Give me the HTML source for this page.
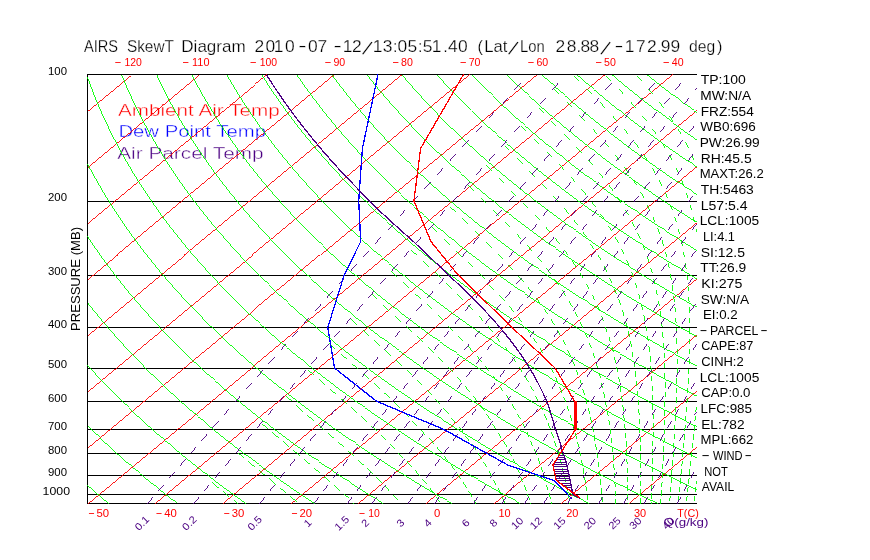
<!DOCTYPE html>
<html><head><meta charset="utf-8"><title>AIRS SkewT Diagram</title>
<style>
html,body{margin:0;padding:0;background:#fff}
body{width:870px;height:560px;overflow:hidden}
svg{display:block}
text{font-family:"Liberation Sans",sans-serif}
</style></head><body>
<svg width="870" height="560" viewBox="0 0 870 560">
<rect width="870" height="560" fill="#fff"/>
<g>
<text x="117.9" y="115.8" font-size="17.3" fill="#ff0000" text-anchor="start" textLength="161.9" lengthAdjust="spacingAndGlyphs" stroke="#fff" stroke-width="0.4">Ambient Air Temp</text>
<text x="118.4" y="137.2" font-size="17.3" fill="#0000ff" text-anchor="start" textLength="147.6" lengthAdjust="spacingAndGlyphs" stroke="#fff" stroke-width="0.4">Dew Point Temp</text>
<text x="117.2" y="159.4" font-size="17.3" fill="#4b0082" text-anchor="start" textLength="146.5" lengthAdjust="spacingAndGlyphs" stroke="#fff" stroke-width="0.4">Air Parcel Temp</text>
</g>
<g shape-rendering="crispEdges" stroke-width="0.9" stroke-linecap="butt">
<path d="M87 201.5H697M87 275.5H697M87 327.5H697M87 368.5H697M87 401.5H697M87 429.5H697M87 453.5H697M87 475.5H697M87 494.5H697M87 74.5H697M87 503.5H697M87.5 74V504" stroke="#000" stroke-width="1" fill="none"/>
<path d="M87.5 110.9L131.2 74.7M87.5 167L198.9 74.7M87.5 223.1L266.5 74.7M87.5 279.2L334.2 74.7M87.5 335.3L401.9 74.7M87.5 391.4L469.5 74.7M87.5 447.5L537.2 74.7M87.5 503.6L604.9 74.7M155.2 503.6L672.6 74.7M222.8 503.6L696.5 110.9M290.5 503.6L696.5 167M358.2 503.6L696.5 223.1M425.9 503.6L696.5 279.2M493.5 503.6L696.5 335.3M561.2 503.6L696.5 391.4M628.9 503.6L696.5 447.5" stroke="#ff0000" fill="none"/>
<path d="M108.7 503.6L105.2 500.6L101.6 497.6L98.1 494.6L94.7 491.6L91.2 488.6L87.8 485.6L87.5 485.3M177.3 503.6L173.5 500.6L169.6 497.6L165.8 494.6L162 491.6L158.2 488.6L154.5 485.6L150.9 482.6L147.2 479.6L143.6 476.6L140 473.6L136.5 470.6L133 467.6L129.5 464.6L126 461.6L122.6 458.6L119.3 455.6L115.9 452.6L112.6 449.6L109.3 446.6L106.1 443.6L102.9 440.6L99.7 437.6L96.5 434.6L93.4 431.6L90.3 428.6L87.5 425.8M246 503.6L241.8 500.6L237.6 497.6L233.4 494.6L229.3 491.6L225.3 488.6L221.2 485.6L217.2 482.6L213.3 479.6L209.4 476.6L205.5 473.6L201.6 470.6L197.8 467.6L194 464.6L190.3 461.6L186.6 458.6L182.9 455.6L179.3 452.6L175.6 449.6L172.1 446.6L168.5 443.6L165 440.6L161.5 437.6L158.1 434.6L154.7 431.6L151.3 428.6L148 425.6L144.7 422.6L141.4 419.6L138.1 416.6L134.9 413.6L131.8 410.6L128.6 407.6L125.5 404.6L122.4 401.6L119.3 398.6L116.3 395.6L113.3 392.6L110.4 389.6L107.4 386.6L104.5 383.6L101.7 380.6L98.8 377.6L96 374.6L93.3 371.6L90.5 368.6L87.8 365.6L87.5 365.2M314.6 503.6L310 500.6L305.6 497.6L301.1 494.6L296.7 491.6L292.3 488.6L288 485.6L283.6 482.6L279.4 479.6L275.1 476.6L271 473.6L266.8 470.6L262.7 467.6L258.6 464.6L254.5 461.6L250.5 458.6L246.5 455.6L242.6 452.6L238.7 449.6L234.8 446.6L231 443.6L227.2 440.6L223.4 437.6L219.7 434.6L216 431.6L212.3 428.6L208.7 425.6L205.1 422.6L201.5 419.6L198 416.6L194.5 413.6L191.1 410.6L187.6 407.6L184.2 404.6L180.9 401.6L177.6 398.6L174.3 395.6L171 392.6L167.8 389.6L164.6 386.6L161.4 383.6L158.3 380.6L155.2 377.6L152.1 374.6L149 371.6L146 368.6L143.1 365.6L140.1 362.6L137.2 359.6L134.3 356.6L131.5 353.6L128.6 350.6L125.8 347.6L123.1 344.6L120.3 341.6L117.6 338.6L115 335.6L112.3 332.6L109.7 329.6L107.1 326.6L104.6 323.6L102 320.6L99.5 317.6L97.1 314.6L94.6 311.6L92.2 308.6L89.8 305.6L87.5 302.6M383.2 503.6L378.3 500.6L373.5 497.6L368.8 494.6L364 491.6L359.3 488.6L354.7 485.6L350 482.6L345.5 479.6L340.9 476.6L336.4 473.6L332 470.6L327.5 467.6L323.1 464.6L318.8 461.6L314.5 458.6L310.2 455.6L305.9 452.6L301.7 449.6L297.6 446.6L293.4 443.6L289.4 440.6L285.3 437.6L281.3 434.6L277.3 431.6L273.3 428.6L269.4 425.6L265.5 422.6L261.7 419.6L257.9 416.6L254.1 413.6L250.4 410.6L246.7 407.6L243 404.6L239.4 401.6L235.8 398.6L232.2 395.6L228.7 392.6L225.2 389.6L221.7 386.6L218.2 383.6L214.8 380.6L211.5 377.6L208.1 374.6L204.8 371.6L201.6 368.6L198.3 365.6L195.1 362.6L191.9 359.6L188.8 356.6L185.7 353.6L182.6 350.6L179.6 347.6L176.6 344.6L173.6 341.6L170.6 338.6L167.7 335.6L164.8 332.6L161.9 329.6L159.1 326.6L156.3 323.6L153.5 320.6L150.8 317.6L148.1 314.6L145.4 311.6L142.7 308.6L140.1 305.6L137.5 302.6L135 299.6L132.4 296.6L129.9 293.6L127.4 290.6L125 287.6L122.6 284.6L120.2 281.6L117.8 278.6L115.5 275.6L113.2 272.6L110.9 269.6L108.6 266.6L106.4 263.6L104.2 260.6L102 257.6L99.9 254.6L97.8 251.6L95.7 248.6L93.6 245.6L91.6 242.6L89.6 239.6L87.6 236.6L87.5 236.4M451.8 503.6L446.6 500.6L441.5 497.6L436.4 494.6L431.4 491.6L426.3 488.6L421.4 485.6L416.4 482.6L411.6 479.6L406.7 476.6L401.9 473.6L397.1 470.6L392.4 467.6L387.7 464.6L383 461.6L378.4 458.6L373.8 455.6L369.3 452.6L364.8 449.6L360.3 446.6L355.9 443.6L351.5 440.6L347.2 437.6L342.9 434.6L338.6 431.6L334.3 428.6L330.1 425.6L326 422.6L321.8 419.6L317.8 416.6L313.7 413.6L309.7 410.6L305.7 407.6L301.8 404.6L297.8 401.6L294 398.6L290.1 395.6L286.3 392.6L282.5 389.6L278.8 386.6L275.1 383.6L271.4 380.6L267.8 377.6L264.2 374.6L260.6 371.6L257.1 368.6L253.6 365.6L250.1 362.6L246.7 359.6L243.3 356.6L239.9 353.6L236.6 350.6L233.3 347.6L230 344.6L226.8 341.6L223.6 338.6L220.4 335.6L217.3 332.6L214.2 329.6L211.1 326.6L208 323.6L205 320.6L202.1 317.6L199.1 314.6L196.2 311.6L193.3 308.6L190.4 305.6L187.6 302.6L184.8 299.6L182 296.6L179.3 293.6L176.6 290.6L173.9 287.6L171.2 284.6L168.6 281.6L166 278.6L163.5 275.6L160.9 272.6L158.4 269.6L156 266.6L153.5 263.6L151.1 260.6L148.7 257.6L146.3 254.6L144 251.6L141.7 248.6L139.4 245.6L137.2 242.6L135 239.6L132.8 236.6L130.6 233.6L128.4 230.6L126.3 227.6L124.2 224.6L122.2 221.6L120.1 218.6L118.1 215.6L116.2 212.6L114.2 209.6L112.3 206.6L110.4 203.6L108.5 200.6L106.6 197.6L104.8 194.6L103 191.6L101.2 188.6L99.5 185.6L97.8 182.6L96.1 179.6L94.4 176.6L92.8 173.6L91.1 170.6L89.5 167.6L88 164.6L87.5 163.7M520.4 503.6L514.9 500.6L509.5 497.6L504.1 494.6L498.7 491.6L493.4 488.6L488.1 485.6L482.8 482.6L477.6 479.6L472.5 476.6L467.4 473.6L462.3 470.6L457.2 467.6L452.2 464.6L447.3 461.6L442.4 458.6L437.5 455.6L432.6 452.6L427.8 449.6L423.1 446.6L418.4 443.6L413.7 440.6L409 437.6L404.4 434.6L399.9 431.6L395.4 428.6L390.9 425.6L386.4 422.6L382 419.6L377.6 416.6L373.3 413.6L369 410.6L364.7 407.6L360.5 404.6L356.3 401.6L352.2 398.6L348.1 395.6L344 392.6L339.9 389.6L335.9 386.6L332 383.6L328 380.6L324.1 377.6L320.3 374.6L316.4 371.6L312.6 368.6L308.9 365.6L305.1 362.6L301.5 359.6L297.8 356.6L294.2 353.6L290.6 350.6L287 347.6L283.5 344.6L280 341.6L276.6 338.6L273.1 335.6L269.8 332.6L266.4 329.6L263.1 326.6L259.8 323.6L256.5 320.6L253.3 317.6L250.1 314.6L247 311.6L243.8 308.6L240.7 305.6L237.7 302.6L234.6 299.6L231.6 296.6L228.7 293.6L225.7 290.6L222.8 287.6L219.9 284.6L217.1 281.6L214.3 278.6L211.5 275.6L208.7 272.6L206 269.6L203.3 266.6L200.6 263.6L198 260.6L195.4 257.6L192.8 254.6L190.2 251.6L187.7 248.6L185.2 245.6L182.7 242.6L180.3 239.6L177.9 236.6L175.5 233.6L173.2 230.6L170.8 227.6L168.6 224.6L166.3 221.6L164 218.6L161.8 215.6L159.6 212.6L157.5 209.6L155.4 206.6L153.2 203.6L151.2 200.6L149.1 197.6L147.1 194.6L145.1 191.6L143.1 188.6L141.2 185.6L139.3 182.6L137.4 179.6L135.5 176.6L133.7 173.6L131.8 170.6L130.1 167.6L128.3 164.6L126.5 161.6L124.8 158.6L123.1 155.6L121.5 152.6L119.8 149.6L118.2 146.6L116.6 143.6L115.1 140.6L113.5 137.6L112 134.6L110.5 131.6L109 128.6L107.6 125.6L106.2 122.6L104.8 119.6L103.4 116.6L102 113.6L100.7 110.6L99.4 107.6L98.1 104.6L96.9 101.6L95.6 98.6L94.4 95.6L93.2 92.6L92.1 89.6L90.9 86.6L89.8 83.6L88.7 80.6L87.6 77.6L87.5 77.2M589.1 503.6L583.2 500.6L577.5 497.6L571.7 494.6L566 491.6L560.4 488.6L554.8 485.6L549.2 482.6L543.7 479.6L538.3 476.6L532.8 473.6L527.4 470.6L522.1 467.6L516.8 464.6L511.5 461.6L506.3 458.6L501.1 455.6L496 452.6L490.9 449.6L485.8 446.6L480.8 443.6L475.9 440.6L470.9 437.6L466 434.6L461.2 431.6L456.4 428.6L451.6 425.6L446.9 422.6L442.2 419.6L437.5 416.6L432.9 413.6L428.3 410.6L423.8 407.6L419.3 404.6L414.8 401.6L410.4 398.6L406 395.6L401.6 392.6L397.3 389.6L393 386.6L388.8 383.6L384.6 380.6L380.4 377.6L376.3 374.6L372.2 371.6L368.2 368.6L364.1 365.6L360.2 362.6L356.2 359.6L352.3 356.6L348.4 353.6L344.6 350.6L340.8 347.6L337 344.6L333.3 341.6L329.5 338.6L325.9 335.6L322.2 332.6L318.6 329.6L315.1 326.6L311.5 323.6L308 320.6L304.6 317.6L301.1 314.6L297.7 311.6L294.4 308.6L291 305.6L287.7 302.6L284.5 299.6L281.2 296.6L278 293.6L274.9 290.6L271.7 287.6L268.6 284.6L265.5 281.6L262.5 278.6L259.5 275.6L256.5 272.6L253.5 269.6L250.6 266.6L247.7 263.6L244.9 260.6L242 257.6L239.2 254.6L236.5 251.6L233.7 248.6L231 245.6L228.3 242.6L225.7 239.6L223.1 236.6L220.5 233.6L217.9 230.6L215.4 227.6L212.9 224.6L210.4 221.6L207.9 218.6L205.5 215.6L203.1 212.6L200.8 209.6L198.4 206.6L196.1 203.6L193.8 200.6L191.6 197.6L189.4 194.6L187.2 191.6L185 188.6L182.9 185.6L180.7 182.6L178.7 179.6L176.6 176.6L174.6 173.6L172.6 170.6L170.6 167.6L168.6 164.6L166.7 161.6L164.8 158.6L162.9 155.6L161.1 152.6L159.2 149.6L157.4 146.6L155.7 143.6L153.9 140.6L152.2 137.6L150.5 134.6L148.8 131.6L147.2 128.6L145.5 125.6L143.9 122.6L142.4 119.6L140.8 116.6L139.3 113.6L137.8 110.6L136.3 107.6L134.8 104.6L133.4 101.6L132 98.6L130.6 95.6L129.3 92.6L127.9 89.6L126.6 86.6L125.3 83.6L124.1 80.6L122.8 77.6L121.6 74.7M657.7 503.6L651.5 500.6L645.4 497.6L639.4 494.6L633.4 491.6L627.4 488.6L621.5 485.6L615.6 482.6L609.8 479.6L604 476.6L598.3 473.6L592.6 470.6L586.9 467.6L581.3 464.6L575.8 461.6L570.3 458.6L564.8 455.6L559.3 452.6L553.9 449.6L548.6 446.6L543.3 443.6L538 440.6L532.8 437.6L527.6 434.6L522.5 431.6L517.4 428.6L512.3 425.6L507.3 422.6L502.3 419.6L497.4 416.6L492.5 413.6L487.6 410.6L482.8 407.6L478 404.6L473.3 401.6L468.6 398.6L463.9 395.6L459.3 392.6L454.7 389.6L450.2 386.6L445.7 383.6L441.2 380.6L436.8 377.6L432.4 374.6L428 371.6L423.7 368.6L419.4 365.6L415.2 362.6L411 359.6L406.8 356.6L402.7 353.6L398.6 350.6L394.5 347.6L390.5 344.6L386.5 341.6L382.5 338.6L378.6 335.6L374.7 332.6L370.9 329.6L367.1 326.6L363.3 323.6L359.5 320.6L355.8 317.6L352.2 314.6L348.5 311.6L344.9 308.6L341.3 305.6L337.8 302.6L334.3 299.6L330.8 296.6L327.4 293.6L324 290.6L320.6 287.6L317.3 284.6L314 281.6L310.7 278.6L307.5 275.6L304.3 272.6L301.1 269.6L297.9 266.6L294.8 263.6L291.7 260.6L288.7 257.6L285.7 254.6L282.7 251.6L279.7 248.6L276.8 245.6L273.9 242.6L271 239.6L268.2 236.6L265.4 233.6L262.6 230.6L259.9 227.6L257.2 224.6L254.5 221.6L251.8 218.6L249.2 215.6L246.6 212.6L244 209.6L241.5 206.6L239 203.6L236.5 200.6L234.1 197.6L231.6 194.6L229.2 191.6L226.9 188.6L224.5 185.6L222.2 182.6L219.9 179.6L217.7 176.6L215.5 173.6L213.3 170.6L211.1 167.6L208.9 164.6L206.8 161.6L204.7 158.6L202.7 155.6L200.6 152.6L198.6 149.6L196.6 146.6L194.7 143.6L192.7 140.6L190.8 137.6L189 134.6L187.1 131.6L185.3 128.6L183.5 125.6L181.7 122.6L179.9 119.6L178.2 116.6L176.5 113.6L174.8 110.6L173.2 107.6L171.6 104.6L169.9 101.6L168.4 98.6L166.8 95.6L165.3 92.6L163.8 89.6L162.3 86.6L160.8 83.6L159.4 80.6L158 77.6L156.7 74.7M696.5 489.5L694.5 488.6L688.2 485.6L682 482.6L675.9 479.6L669.8 476.6L663.8 473.6L657.8 470.6L651.8 467.6L645.9 464.6L640 461.6L634.2 458.6L628.4 455.6L622.7 452.6L617 449.6L611.3 446.6L605.7 443.6L600.2 440.6L594.7 437.6L589.2 434.6L583.8 431.6L578.4 428.6L573 425.6L567.7 422.6L562.5 419.6L557.2 416.6L552.1 413.6L546.9 410.6L541.8 407.6L536.8 404.6L531.8 401.6L526.8 398.6L521.8 395.6L517 392.6L512.1 389.6L507.3 386.6L502.5 383.6L497.8 380.6L493.1 377.6L488.4 374.6L483.8 371.6L479.2 368.6L474.7 365.6L470.2 362.6L465.7 359.6L461.3 356.6L456.9 353.6L452.5 350.6L448.2 347.6L443.9 344.6L439.7 341.6L435.5 338.6L431.3 335.6L427.2 332.6L423.1 329.6L419.1 326.6L415 323.6L411 320.6L407.1 317.6L403.2 314.6L399.3 311.6L395.5 308.6L391.7 305.6L387.9 302.6L384.1 299.6L380.4 296.6L376.8 293.6L373.1 290.6L369.5 287.6L366 284.6L362.4 281.6L358.9 278.6L355.5 275.6L352 272.6L348.6 269.6L345.3 266.6L341.9 263.6L338.6 260.6L335.3 257.6L332.1 254.6L328.9 251.6L325.7 248.6L322.6 245.6L319.5 242.6L316.4 239.6L313.3 236.6L310.3 233.6L307.3 230.6L304.4 227.6L301.5 224.6L298.6 221.6L295.7 218.6L292.9 215.6L290.1 212.6L287.3 209.6L284.6 206.6L281.9 203.6L279.2 200.6L276.5 197.6L273.9 194.6L271.3 191.6L268.7 188.6L266.2 185.6L263.7 182.6L261.2 179.6L258.8 176.6L256.4 173.6L254 170.6L251.6 167.6L249.3 164.6L247 161.6L244.7 158.6L242.4 155.6L240.2 152.6L238 149.6L235.8 146.6L233.7 143.6L231.6 140.6L229.5 137.6L227.4 134.6L225.4 131.6L223.4 128.6L221.4 125.6L219.4 122.6L217.5 119.6L215.6 116.6L213.7 113.6L211.9 110.6L210.1 107.6L208.3 104.6L206.5 101.6L204.7 98.6L203 95.6L201.3 92.6L199.6 89.6L198 86.6L196.4 83.6L194.8 80.6L193.2 77.6L191.7 74.7M696.5 457.7L692.1 455.6L686 452.6L680 449.6L674.1 446.6L668.2 443.6L662.4 440.6L656.5 437.6L650.8 434.6L645.1 431.6L639.4 428.6L633.8 425.6L628.2 422.6L622.6 419.6L617.1 416.6L611.7 413.6L606.2 410.6L600.9 407.6L595.5 404.6L590.2 401.6L585 398.6L579.8 395.6L574.6 392.6L569.5 389.6L564.4 386.6L559.4 383.6L554.4 380.6L549.4 377.6L544.5 374.6L539.6 371.6L534.7 368.6L529.9 365.6L525.2 362.6L520.5 359.6L515.8 356.6L511.1 353.6L506.5 350.6L502 347.6L497.4 344.6L492.9 341.6L488.5 338.6L484.1 335.6L479.7 332.6L475.4 329.6L471 326.6L466.8 323.6L462.6 320.6L458.4 317.6L454.2 314.6L450.1 311.6L446 308.6L442 305.6L438 302.6L434 299.6L430 296.6L426.1 293.6L422.3 290.6L418.4 287.6L414.6 284.6L410.9 281.6L407.1 278.6L403.5 275.6L399.8 272.6L396.2 269.6L392.6 266.6L389 263.6L385.5 260.6L382 257.6L378.5 254.6L375.1 251.6L371.7 248.6L368.4 245.6L365 242.6L361.8 239.6L358.5 236.6L355.3 233.6L352.1 230.6L348.9 227.6L345.8 224.6L342.7 221.6L339.6 218.6L336.6 215.6L333.6 212.6L330.6 209.6L327.6 206.6L324.7 203.6L321.9 200.6L319 197.6L316.2 194.6L313.4 191.6L310.6 188.6L307.9 185.6L305.2 182.6L302.5 179.6L299.9 176.6L297.3 173.6L294.7 170.6L292.1 167.6L289.6 164.6L287.1 161.6L284.6 158.6L282.2 155.6L279.8 152.6L277.4 149.6L275 146.6L272.7 143.6L270.4 140.6L268.2 137.6L265.9 134.6L263.7 131.6L261.5 128.6L259.3 125.6L257.2 122.6L255.1 119.6L253 116.6L251 113.6L248.9 110.6L246.9 107.6L245 104.6L243 101.6L241.1 98.6L239.2 95.6L237.3 92.6L235.5 89.6L233.7 86.6L231.9 83.6L230.1 80.6L228.4 77.6L226.7 74.7M696.5 426.6L694.5 425.6L688.6 422.6L682.8 419.6L677 416.6L671.2 413.6L665.5 410.6L659.9 407.6L654.3 404.6L648.7 401.6L643.2 398.6L637.7 395.6L632.3 392.6L626.9 389.6L621.5 386.6L616.2 383.6L610.9 380.6L605.7 377.6L600.5 374.6L595.4 371.6L590.3 368.6L585.2 365.6L580.2 362.6L575.2 359.6L570.3 356.6L565.4 353.6L560.5 350.6L555.7 347.6L550.9 344.6L546.2 341.6L541.5 338.6L536.8 335.6L532.2 332.6L527.6 329.6L523 326.6L518.5 323.6L514.1 320.6L509.6 317.6L505.2 314.6L500.9 311.6L496.6 308.6L492.3 305.6L488 302.6L483.8 299.6L479.6 296.6L475.5 293.6L471.4 290.6L467.3 287.6L463.3 284.6L459.3 281.6L455.4 278.6L451.4 275.6L447.6 272.6L443.7 269.6L439.9 266.6L436.1 263.6L432.4 260.6L428.7 257.6L425 254.6L421.3 251.6L417.7 248.6L414.2 245.6L410.6 242.6L407.1 239.6L403.6 236.6L400.2 233.6L396.8 230.6L393.4 227.6L390.1 224.6L386.8 221.6L383.5 218.6L380.3 215.6L377 212.6L373.9 209.6L370.7 206.6L367.6 203.6L364.5 200.6L361.5 197.6L358.4 194.6L355.5 191.6L352.5 188.6L349.6 185.6L346.7 182.6L343.8 179.6L341 176.6L338.2 173.6L335.4 170.6L332.6 167.6L329.9 164.6L327.2 161.6L324.6 158.6L322 155.6L319.4 152.6L316.8 149.6L314.3 146.6L311.7 143.6L309.3 140.6L306.8 137.6L304.4 134.6L302 131.6L299.6 128.6L297.3 125.6L295 122.6L292.7 119.6L290.4 116.6L288.2 113.6L286 110.6L283.8 107.6L281.7 104.6L279.6 101.6L277.5 98.6L275.4 95.6L273.4 92.6L271.3 89.6L269.4 86.6L267.4 83.6L265.5 80.6L263.6 77.6L261.7 74.7M696.5 396L695.6 395.6L689.9 392.6L684.3 389.6L678.6 386.6L673.1 383.6L667.5 380.6L662 377.6L656.6 374.6L651.2 371.6L645.8 368.6L640.5 365.6L635.2 362.6L630 359.6L624.8 356.6L619.6 353.6L614.5 350.6L609.4 347.6L604.4 344.6L599.4 341.6L594.4 338.6L589.5 335.6L584.7 332.6L579.8 329.6L575 326.6L570.3 323.6L565.6 320.6L560.9 317.6L556.3 314.6L551.7 311.6L547.1 308.6L542.6 305.6L538.1 302.6L533.6 299.6L529.2 296.6L524.9 293.6L520.5 290.6L516.2 287.6L512 284.6L507.8 281.6L503.6 278.6L499.4 275.6L495.3 272.6L491.3 269.6L487.2 266.6L483.2 263.6L479.3 260.6L475.3 257.6L471.4 254.6L467.6 251.6L463.7 248.6L460 245.6L456.2 242.6L452.5 239.6L448.8 236.6L445.1 233.6L441.5 230.6L437.9 227.6L434.4 224.6L430.9 221.6L427.4 218.6L423.9 215.6L420.5 212.6L417.1 209.6L413.8 206.6L410.5 203.6L407.2 200.6L403.9 197.6L400.7 194.6L397.5 191.6L394.4 188.6L391.3 185.6L388.2 182.6L385.1 179.6L382.1 176.6L379.1 173.6L376.1 170.6L373.2 167.6L370.3 164.6L367.4 161.6L364.5 158.6L361.7 155.6L358.9 152.6L356.2 149.6L353.5 146.6L350.8 143.6L348.1 140.6L345.5 137.6L342.9 134.6L340.3 131.6L337.7 128.6L335.2 125.6L332.7 122.6L330.3 119.6L327.8 116.6L325.4 113.6L323 110.6L320.7 107.6L318.4 104.6L316.1 101.6L313.8 98.6L311.6 95.6L309.4 92.6L307.2 89.6L305 86.6L302.9 83.6L300.8 80.6L298.7 77.6L296.8 74.7M696.5 366L695.8 365.6L690.2 362.6L684.7 359.6L679.3 356.6L673.8 353.6L668.5 350.6L663.2 347.6L657.9 344.6L652.6 341.6L647.4 338.6L642.3 335.6L637.1 332.6L632.1 329.6L627 326.6L622 323.6L617.1 320.6L612.1 317.6L607.3 314.6L602.4 311.6L597.6 308.6L592.9 305.6L588.2 302.6L583.5 299.6L578.8 296.6L574.2 293.6L569.7 290.6L565.2 287.6L560.7 284.6L556.2 281.6L551.8 278.6L547.4 275.6L543.1 272.6L538.8 269.6L534.5 266.6L530.3 263.6L526.1 260.6L522 257.6L517.9 254.6L513.8 251.6L509.7 248.6L505.7 245.6L501.8 242.6L497.8 239.6L493.9 236.6L490.1 233.6L486.3 230.6L482.5 227.6L478.7 224.6L475 221.6L471.3 218.6L467.6 215.6L464 212.6L460.4 209.6L456.9 206.6L453.3 203.6L449.9 200.6L446.4 197.6L443 194.6L439.6 191.6L436.3 188.6L432.9 185.6L429.6 182.6L426.4 179.6L423.2 176.6L420 173.6L416.8 170.6L413.7 167.6L410.6 164.6L407.5 161.6L404.5 158.6L401.5 155.6L398.5 152.6L395.6 149.6L392.7 146.6L389.8 143.6L386.9 140.6L384.1 137.6L381.3 134.6L378.6 131.6L375.8 128.6L373.2 125.6L370.5 122.6L367.8 119.6L365.2 116.6L362.7 113.6L360.1 110.6L357.6 107.6L355.1 104.6L352.6 101.6L350.2 98.6L347.8 95.6L345.4 92.6L343.1 89.6L340.7 86.6L338.4 83.6L336.2 80.6L333.9 77.6L331.8 74.7M696.5 336.4L695 335.6L689.6 332.6L684.3 329.6L679 326.6L673.8 323.6L668.6 320.6L663.4 317.6L658.3 314.6L653.2 311.6L648.2 308.6L643.2 305.6L638.2 302.6L633.3 299.6L628.4 296.6L623.6 293.6L618.8 290.6L614.1 287.6L609.3 284.6L604.7 281.6L600 278.6L595.4 275.6L590.9 272.6L586.4 269.6L581.9 266.6L577.4 263.6L573 260.6L568.6 257.6L564.3 254.6L560 251.6L555.8 248.6L551.5 245.6L547.3 242.6L543.2 239.6L539.1 236.6L535 233.6L531 230.6L527 227.6L523 224.6L519.1 221.6L515.2 218.6L511.3 215.6L507.5 212.6L503.7 209.6L499.9 206.6L496.2 203.6L492.5 200.6L488.9 197.6L485.3 194.6L481.7 191.6L478.1 188.6L474.6 185.6L471.1 182.6L467.7 179.6L464.3 176.6L460.9 173.6L457.5 170.6L454.2 167.6L450.9 164.6L447.7 161.6L444.4 158.6L441.2 155.6L438.1 152.6L435 149.6L431.9 146.6L428.8 143.6L425.8 140.6L422.8 137.6L419.8 134.6L416.9 131.6L414 128.6L411.1 125.6L408.2 122.6L405.4 119.6L402.6 116.6L399.9 113.6L397.2 110.6L394.5 107.6L391.8 104.6L389.2 101.6L386.6 98.6L384 95.6L381.4 92.6L378.9 89.6L376.4 86.6L374 83.6L371.5 80.6L369.1 77.6L366.8 74.7M696.5 307.3L693.5 305.6L688.3 302.6L683.2 299.6L678 296.6L673 293.6L668 290.6L663 287.6L658 284.6L653.1 281.6L648.3 278.6L643.4 275.6L638.6 272.6L633.9 269.6L629.2 266.6L624.5 263.6L619.9 260.6L615.3 257.6L610.8 254.6L606.2 251.6L601.8 248.6L597.3 245.6L592.9 242.6L588.6 239.6L584.2 236.6L580 233.6L575.7 230.6L571.5 227.6L567.3 224.6L563.2 221.6L559.1 218.6L555 215.6L551 212.6L547 209.6L543 206.6L539.1 203.6L535.2 200.6L531.4 197.6L527.5 194.6L523.7 191.6L520 188.6L516.3 185.6L512.6 182.6L509 179.6L505.4 176.6L501.8 173.6L498.2 170.6L494.7 167.6L491.2 164.6L487.8 161.6L484.4 158.6L481 155.6L477.7 152.6L474.4 149.6L471.1 146.6L467.8 143.6L464.6 140.6L461.4 137.6L458.3 134.6L455.2 131.6L452.1 128.6L449 125.6L446 122.6L443 119.6L440 116.6L437.1 113.6L434.2 110.6L431.3 107.6L428.5 104.6L425.7 101.6L422.9 98.6L420.2 95.6L417.4 92.6L414.8 89.6L412.1 86.6L409.5 83.6L406.9 80.6L404.3 77.6L401.8 74.7M696.5 278.6L696.5 278.6L691.4 275.6L686.4 272.6L681.4 269.6L676.5 266.6L671.6 263.6L666.8 260.6L662 257.6L657.2 254.6L652.5 251.6L647.8 248.6L643.1 245.6L638.5 242.6L633.9 239.6L629.4 236.6L624.9 233.6L620.4 230.6L616 227.6L611.6 224.6L607.3 221.6L603 218.6L598.7 215.6L594.5 212.6L590.3 209.6L586.1 206.6L582 203.6L577.9 200.6L573.8 197.6L569.8 194.6L565.8 191.6L561.9 188.6L558 185.6L554.1 182.6L550.3 179.6L546.4 176.6L542.7 173.6L538.9 170.6L535.2 167.6L531.6 164.6L527.9 161.6L524.3 158.6L520.8 155.6L517.2 152.6L513.7 149.6L510.3 146.6L506.9 143.6L503.5 140.6L500.1 137.6L496.8 134.6L493.5 131.6L490.2 128.6L487 125.6L483.8 122.6L480.6 119.6L477.4 116.6L474.3 113.6L471.3 110.6L468.2 107.6L465.2 104.6L462.2 101.6L459.3 98.6L456.4 95.6L453.5 92.6L450.6 89.6L447.8 86.6L445 83.6L442.2 80.6L439.5 77.6L436.9 74.7M696.5 250.2L693.8 248.6L688.9 245.6L684.1 242.6L679.3 239.6L674.5 236.6L669.8 233.6L665.2 230.6L660.5 227.6L655.9 224.6L651.4 221.6L646.9 218.6L642.4 215.6L637.9 212.6L633.5 209.6L629.2 206.6L624.8 203.6L620.5 200.6L616.3 197.6L612.1 194.6L607.9 191.6L603.8 188.6L599.6 185.6L595.6 182.6L591.5 179.6L587.5 176.6L583.6 173.6L579.6 170.6L575.8 167.6L571.9 164.6L568.1 161.6L564.3 158.6L560.5 155.6L556.8 152.6L553.1 149.6L549.5 146.6L545.9 143.6L542.3 140.6L538.7 137.6L535.2 134.6L531.8 131.6L528.3 128.6L524.9 125.6L521.5 122.6L518.2 119.6L514.9 116.6L511.6 113.6L508.3 110.6L505.1 107.6L501.9 104.6L498.8 101.6L495.6 98.6L492.6 95.6L489.5 92.6L486.5 89.6L483.5 86.6L480.5 83.6L477.6 80.6L474.7 77.6L471.9 74.7M696.5 222.2L695.5 221.6L690.7 218.6L686.1 215.6L681.4 212.6L676.8 209.6L672.2 206.6L667.7 203.6L663.2 200.6L658.8 197.6L654.3 194.6L650 191.6L645.6 188.6L641.3 185.6L637.1 182.6L632.8 179.6L628.6 176.6L624.5 173.6L620.4 170.6L616.3 167.6L612.2 164.6L608.2 161.6L604.2 158.6L600.3 155.6L596.4 152.6L592.5 149.6L588.7 146.6L584.9 143.6L581.1 140.6L577.4 137.6L573.7 134.6L570.1 131.6L566.4 128.6L562.8 125.6L559.3 122.6L555.8 119.6L552.3 116.6L548.8 113.6L545.4 110.6L542 107.6L538.6 104.6L535.3 101.6L532 98.6L528.7 95.6L525.5 92.6L522.3 89.6L519.2 86.6L516 83.6L512.9 80.6L509.9 77.6L506.9 74.7M696.5 194.5L692 191.6L687.5 188.6L683 185.6L678.5 182.6L674.1 179.6L669.7 176.6L665.4 173.6L661.1 170.6L656.8 167.6L652.6 164.6L648.4 161.6L644.2 158.6L640.1 155.6L636 152.6L631.9 149.6L627.9 146.6L623.9 143.6L620 140.6L616.1 137.6L612.2 134.6L608.3 131.6L604.5 128.6L600.8 125.6L597 122.6L593.3 119.6L589.7 116.6L586 113.6L582.4 110.6L578.9 107.6L575.3 104.6L571.8 101.6L568.4 98.6L564.9 95.6L561.5 92.6L558.2 89.6L554.8 86.6L551.5 83.6L548.3 80.6L545 77.6L541.9 74.7M696.5 167L692.9 164.6L688.5 161.6L684.1 158.6L679.8 155.6L675.6 152.6L671.3 149.6L667.1 146.6L662.9 143.6L658.8 140.6L654.7 137.6L650.7 134.6L646.6 131.6L642.7 128.6L638.7 125.6L634.8 122.6L630.9 119.6L627.1 116.6L623.3 113.6L619.5 110.6L615.7 107.6L612 104.6L608.4 101.6L604.7 98.6L601.1 95.6L597.6 92.6L594 89.6L590.5 86.6L587.1 83.6L583.6 80.6L580.2 77.6L577 74.7M696.5 139.7L693.4 137.6L689.1 134.6L684.9 131.6L680.8 128.6L676.6 125.6L672.6 122.6L668.5 119.6L664.5 116.6L660.5 113.6L656.5 110.6L652.6 107.6L648.7 104.6L644.9 101.6L641.1 98.6L637.3 95.6L633.6 92.6L629.9 89.6L626.2 86.6L622.6 83.6L619 80.6L615.4 77.6L612 74.7M696.5 112.7L693.6 110.6L689.5 107.6L685.5 104.6L681.4 101.6L677.5 98.6L673.5 95.6L669.6 92.6L665.7 89.6L661.9 86.6L658.1 83.6L654.3 80.6L650.6 77.6L647 74.7" stroke="#00ff00" fill="none"/>
<path d="M212 482.6L218.6 487.9M222.8 491.4L229.4 496.8M233.6 500.2L237.7 503.6M237.6 452.6L244 457.9M248.1 461.4L254.6 466.8M258.8 470.2L265.3 475.6M269.4 478.9L275.9 484.4M279.9 487.8L286.4 493.2M290.4 496.6L296.8 501.9M261.7 423.6L268.1 428.9M272.3 432.5L278.7 437.9M282.8 441.4L289.2 446.8M293.3 450.2L299.6 455.6M303.6 459L310 464.4M313.9 467.8L320.1 473.2M324 476.6L330.1 482M333.9 485.4L339.8 490.8M343.5 494.2L349.3 499.6M352.9 503L353.4 503.6M285.5 396.6L291.8 401.9M296.4 405.9L302.7 411.3M307.2 415.1L313.5 420.5M317.8 424.2L324 429.6M328.1 433.2L334.3 438.6M338.2 442L344.3 447.4M348.1 450.8L354 456.2M357.7 459.6L363.5 465M367 468.4L372.6 473.8M376 477.2L381.4 482.6M384.7 486L389.8 491.4M393 494.8L397.9 500.2M307.6 369.6L313.8 374.9M318.8 379.3L325 384.7M329.8 388.9L336 394.3M340.6 398.3L346.7 403.7M351.2 407.7L357.2 413.1M361.4 416.9L367.3 422.3M371.3 425.9L377.1 431.3M380.8 434.9L386.4 440.3M389.9 443.7L395.2 449.1M398.6 452.5L403.7 457.9M406.9 461.3L411.8 466.7M414.8 470.1L419.5 475.5M422.4 478.9L426.8 484.3M429.5 487.7L433.7 493.1M436.3 496.5L440.2 501.9M329.2 343.6L335.3 348.9M340.6 353.6L346.7 359M351.8 363.6L357.9 369M362.8 373.4L368.9 378.8M373.6 383.1L379.5 388.5M384 392.6L389.8 398M394 402L399.6 407.4M403.6 411.3L409 416.7M412.7 420.5L417.8 425.9M421.2 429.5L426.2 434.9M429.3 438.4L434 443.8M436.9 447.2L441.3 452.6M444 456L448.2 461.4M450.8 464.8L454.7 470.2M457.1 473.6L460.8 479M463.1 482.4L466.6 487.8M468.7 491.2L471.9 496.6M473.9 500L475.9 503.6M351.2 319.6L357.2 324.9M362.8 330L368.8 335.4M374.2 340.3L380.2 345.7M385.4 350.4L391.3 355.8M396.3 360.4L402 365.8M406.8 370.3L412.4 375.7M416.8 380L422.2 385.4M426.3 389.6L431.5 395M435.3 399L440.3 404.4M443.8 408.3L448.5 413.7M451.7 417.5L456.1 422.9M459 426.6L463.2 432M465.9 435.5L469.8 440.9M472.2 444.3L475.9 449.7M478.1 453.1L481.5 458.5M483.6 461.9L486.8 467.3M488.7 470.7L491.7 476.1M493.5 479.5L496.3 484.9M498 488.3L500.6 493.7M502.2 497.1L504.6 502.5M371.5 294.6L377.4 299.9M383.3 305.3L389.2 310.7M394.9 316L400.8 321.4M406.3 326.4L412.1 331.8M417.4 336.8L423.1 342.2M428 347L433.5 352.4M438.1 357L443.4 362.4M447.7 366.9L452.8 372.3M456.7 376.7L461.5 382.1M465.1 386.3L469.6 391.7M472.9 395.8L477.2 401.2M480.2 405.2L484.1 410.6M486.8 414.4L490.5 419.8M492.9 423.5L496.4 428.9M498.6 432.5L501.7 437.9M503.7 441.3L506.7 446.7M508.4 450.1L511.2 455.5M512.9 458.9L515.4 464.3M516.9 467.7L519.3 473.1M520.7 476.5L522.9 481.9M524.3 485.3L526.3 490.7M527.5 494.1L529.4 499.5M530.5 502.9L530.7 503.6M391.2 271.6L397 276.9M403.2 282.6L409 288M415 293.6L420.7 299M426.5 304.4L432.2 309.8M437.6 315L443.1 320.4M448.3 325.5L453.6 330.9M458.4 335.9L463.5 341.3M467.9 346.1L472.8 351.5M476.9 356.1L481.4 361.5M485.1 366L489.4 371.4M492.8 375.8L496.8 381.2M499.8 385.5L503.5 390.9M506.2 395L509.6 400.4M512.1 404.3L515.2 409.7M517.4 413.6L520.3 419M522.3 422.7L525 428.1M526.7 431.7L529.2 437.1M530.7 440.5L533 445.9M534.4 449.3L536.6 454.7M537.9 458.1L539.8 463.5M541 466.9L542.8 472.3M543.9 475.7L545.6 481.1M546.6 484.5L548.1 489.9M549.1 493.3L550.5 498.7M551.4 502.1L551.7 503.6M410.9 249.6L416.6 255M423 261L428.7 266.4M434.9 272.2L440.5 277.6M446.4 283.3L452 288.7M457.6 294.2L463 299.6M468.3 305L473.5 310.4M478.4 315.6L483.3 321M487.8 326.1L492.5 331.5M496.6 336.5L500.9 341.9M504.7 346.6L508.7 352M512.1 356.7L515.8 362.1M518.9 366.6L522.3 372M525 376.4L528.2 381.8M530.6 386L533.5 391.4M535.7 395.5L538.3 400.9M540.2 404.9L542.7 410.3M544.4 414.1L546.6 419.5M548.1 423.2L550.2 428.6M551.5 432.2L553.4 437.6M554.5 441.1L556.3 446.5M557.3 449.9L558.9 455.3M559.9 458.7L561.3 464.1M562.2 467.5L563.6 472.9M564.4 476.3L565.6 481.7M566.3 485.1L567.5 490.5M568.2 493.9L569.2 499.3M569.8 502.7L570 503.6M431.5 227.6L437.2 233M443.8 239.3L449.5 244.7M456 250.8L461.6 256.2M467.7 262.2L473.2 267.6M479 273.4L484.3 278.8M489.8 284.5L494.8 289.9M499.9 295.4L504.7 300.8M509.3 306.2L513.7 311.6M517.9 316.8L522.1 322.2M525.9 327.3L529.7 332.7M533.1 337.6L536.6 343M539.6 347.8L542.8 353.2M545.5 357.8L548.4 363.2M550.8 367.7L553.5 373.1M555.5 377.4L558 382.8M559.8 387.1L562 392.5M563.6 396.6L565.6 401.9M567 405.9L568.9 411.3M570.1 415.1L571.8 420.5M572.8 424.2L574.3 429.6M575.3 433.2L576.7 438.6M577.5 442L578.8 447.4M579.5 450.8L580.6 456.2M581.3 459.6L582.4 465M583 468.4L583.9 473.8M584.5 477.2L585.4 482.6M585.9 486L586.7 491.4M587.1 494.8L587.8 500.2M450 206.6L455.6 212M462.4 218.6L468 223.9M474.6 230.4L480.1 235.8M486.4 242.1L491.8 247.5M497.7 253.6L502.9 259M508.4 264.9L513.3 270.3M518.4 276.1L523.1 281.5M527.7 287.1L532 292.5M536.2 298L540.2 303.4M543.9 308.7L547.6 314.1M550.9 319.3L554.3 324.7M557.2 329.8L560.2 335.2M562.8 340L565.6 345.4M567.8 350.2L570.3 355.6M572.3 360.2L574.5 365.6M576.3 370L578.3 375.4M579.8 379.8L581.6 385.2M582.9 389.4L584.6 394.8M585.7 398.8L587.2 404.2M588.2 408.1L589.5 413.5M590.4 417.3L591.5 422.7M592.3 426.4L593.4 431.8M594 435.3L595 440.7M595.5 444.1L596.4 449.5M596.9 452.9L597.7 458.3M598.1 461.7L598.8 467.1M599.2 470.5L599.9 475.9M600.2 479.3L600.8 484.7M601.1 488.1L601.6 493.5M601.9 496.9L602.4 502.3M468.2 185.6L473.7 191M480.8 197.8L486.3 203.2M493.1 210L498.5 215.4M505 221.9L510.3 227.3M516.4 233.7L521.4 239.1M527.1 245.3L531.9 250.7M537.1 256.8L541.6 262.2M546.3 268.1L550.4 273.5M554.6 279.3L558.4 284.7M562.2 290.2L565.6 295.6M568.9 301.1L572.1 306.5M575 311.8L577.8 317.2M580.3 322.3L582.9 327.7M585.1 332.7L587.3 338.1M589.3 342.9L591.3 348.3M593 353L594.8 358.4M596.2 363L597.8 368.4M599 372.8L600.5 378.2M601.5 382.5L602.8 387.9M603.7 392.1L604.8 397.5M605.6 401.5L606.6 406.9M607.3 410.8L608.2 416.2M608.8 419.9L609.6 425.3M610 428.9L610.7 434.3M611.2 437.8L611.8 443.2M612.1 446.6L612.7 452M613 455.4L613.4 460.8M613.7 464.2L614.1 469.6M614.4 473L614.7 478.4M614.9 481.8L615.2 487.2M615.4 490.6L615.7 496M615.8 499.4L616 503.6M486.2 165.6L491.7 171M498.9 178.1L504.4 183.5M511.4 190.5L516.7 195.9M523.3 202.8L528.5 208.2M534.7 214.8L539.7 220.2M545.4 226.7L550 232.1M555.3 238.4L559.6 243.8M564.3 250L568.3 255.4M572.5 261.4L576.1 266.8M579.8 272.6L583.1 278M586.3 283.7L589.3 289.1M592.1 294.6L594.7 300M597.2 305.4L599.5 310.8M601.6 316L603.7 321.4M605.5 326.5L607.3 331.9M608.9 336.8L610.5 342.2M611.9 347L613.3 352.4M614.4 357.1L615.6 362.5M616.6 367L617.7 372.4M618.5 376.7L619.5 382.1M620.2 386.4L621 391.8M621.6 395.9L622.3 401.3M622.8 405.2L623.4 410.6M623.8 414.5L624.3 419.9M624.6 423.6L625.1 429M625.4 432.6L625.8 437.9M626 441.4L626.3 446.8M626.5 450.2L626.8 455.6M626.9 459L627.1 464.4M627.2 467.8L627.4 473.2M627.5 476.6L627.6 482M627.7 485.4L627.8 490.8M627.9 494.2L627.9 499.6M628 503L628 503.6M504.1 145.6L509.5 151M517 158.4L522.4 163.8M529.6 171.1L534.9 176.5M541.7 183.6L546.8 189M553.2 195.9L558.1 201.3M564 208.1L568.5 213.5M573.8 220L578 225.4M582.8 231.9L586.6 237.3M590.8 243.5L594.3 248.9M598 255L601.1 260.4M604.3 266.3L607 271.7M609.8 277.5L612.2 282.9M614.6 288.5L616.7 293.9M618.8 299.4L620.6 304.8M622.4 310.1L624 315.5M625.5 320.7L626.9 326.1M628.1 331.1L629.3 336.5M630.4 341.4L631.5 346.8M632.3 351.5L633.2 356.9M634 361.5L634.7 366.9M635.3 371.3L636 376.7M636.5 381L637 386.4M637.4 390.6L637.9 396M638.2 400L638.6 405.4M638.8 409.3L639.1 414.7M639.3 418.5L639.5 423.9M639.7 427.6L639.9 433M640 436.5L640.1 441.9M640.2 445.3L640.3 450.7M640.3 454.1L640.3 459.5M640.4 462.9L640.4 468.3M640.4 471.7L640.3 477.1M640.3 480.5L640.3 485.9M640.2 489.3L640.2 494.7M640.1 498.1L640 503.5M520.8 125.6L526.2 131M534 138.7L539.3 144.1M546.8 151.6L552.1 157M559.1 164.4L564.2 169.8M570.8 177L575.6 182.4M581.6 189.4L586.1 194.8M591.5 201.7L595.6 207.1M600.4 213.7L604.1 219.1M608.3 225.6L611.6 231M615.3 237.4L618.3 242.8M621.4 248.9L624 254.3M626.7 260.4L629 265.8M631.3 271.6L633.3 277M635.2 282.7L636.9 288.1M638.6 293.6L640 299M641.4 304.4L642.7 309.8M643.8 315.1L644.9 320.5M645.8 325.6L646.7 331M647.5 335.9L648.2 341.3M648.9 346.1L649.5 351.5M650 356.2L650.5 361.6M650.9 366.1L651.3 371.5M651.6 375.8L651.9 381.2M652.2 385.5L652.4 390.9M652.6 395L652.7 400.4M652.8 404.4L652.9 409.8M653 413.6L653.1 419M653.1 422.7L653.1 428.1M653.1 431.7L653 437.1M653 440.6L652.9 446M652.9 449.4L652.8 454.8M652.7 458.2L652.6 463.6M652.5 467L652.3 472.4M652.2 475.8L652 481.2M651.9 484.6L651.7 490M651.6 493.4L651.4 498.8M651.2 502.2L651.2 503.6M538.1 107.6L543.5 113M551.4 120.9L556.7 126.3M564.4 134.1L569.5 139.5M576.7 147.2L581.7 152.6M588.4 160L593 165.4M599.1 172.6L603.4 178M608.9 185.1L612.8 190.5M617.6 197.4L621.1 202.8M625.3 209.6L628.4 214.9M632 221.5L634.8 226.9M637.8 233.3L640.2 238.7M642.8 244.9L644.9 250.3M647.1 256.4L648.9 261.8M650.7 267.7L652.2 273.1M653.7 278.9L655 284.3M656.3 289.9L657.3 295.3M658.4 300.7L659.3 306.1M660.1 311.4L660.8 316.8M661.5 321.9L662.1 327.3M662.6 332.3L663.1 337.7M663.4 342.6L663.8 348M664.1 352.7L664.3 358.1M664.5 362.6L664.7 368M664.8 372.5L665 377.9M665 382.2L665.1 387.6M665.1 391.7L665 397.1M665 401.1L664.9 406.5M664.9 410.4L664.8 415.8M664.7 419.6L664.5 425M664.4 428.6L664.2 434M664.1 437.5L663.9 442.9M663.7 446.3L663.5 451.7M663.3 455.1L663.1 460.5M662.9 463.9L662.6 469.3M662.4 472.7L662.1 478.1M662 481.5L661.6 486.9M661.4 490.3L661.1 495.7M660.9 499.1L660.7 503.6M553.5 88.6L558.9 94M566.8 102L572 107.4M579.8 115.4L584.9 120.8M592.3 128.6L597.2 134M604 141.7L608.7 147.1M614.8 154.6L619.1 160M624.6 167.3L628.4 172.7M633.2 179.9L636.7 185.3M640.8 192.3L643.9 197.7M647.4 204.5L650 209.9M653.1 216.5L655.3 221.9M657.9 228.4L659.8 233.8M661.9 240.1L663.6 245.5M665.3 251.6L666.7 257M668.1 263L669.2 268.4M670.4 274.2L671.3 279.6M672.2 285.3L673 290.7M673.7 296.2L674.3 301.6M674.9 307L675.3 312.4M675.7 317.6L676.1 322.9M676.4 328L676.6 333.4M676.8 338.3L676.9 343.7M677 348.5L677.1 353.9M677.1 358.5L677.1 363.9M677.1 368.4L677 373.8M676.9 378.2L676.8 383.6M676.7 387.8L676.5 393.2M676.4 397.2L676.1 402.6M676 406.6L675.7 412M675.5 415.8L675.2 421.2M675 424.9L674.7 430.3M674.5 433.8L674.1 439.2M673.9 442.7L673.6 448.1M673.3 451.5L673 456.9M672.7 460.3L672.3 465.7M672.1 469.1L671.7 474.5M671.4 477.9L671 483.3M670.8 486.7L670.3 492.1M670.1 495.5L669.7 500.9M574 75.6L579.3 81M587.2 89L592.4 94.4M600.1 102.4L605.1 107.8M612.4 115.8L617.2 121.2M624 129L628.4 134.4M634.5 142.1L638.5 147.5M643.8 155L647.4 160.4M652 167.7L655.2 173.1M659.1 180.3L661.9 185.7M665.2 192.6L667.5 198M670.3 204.8L672.3 210.2M674.6 216.9L676.3 222.3M678.2 228.7L679.6 234.1M681.1 240.4L682.3 245.8M683.5 252L684.4 257.4M685.3 263.3L686.1 268.7M686.8 274.6L687.4 279.9M687.9 285.6L688.4 291M688.8 296.5L689.1 301.9M689.3 307.3L689.5 312.7M689.6 317.8L689.7 323.2M689.8 328.3L689.8 333.7M689.7 338.6L689.7 344M689.6 348.8L689.4 354.2M689.3 358.8L689.1 364.2M688.9 368.7L688.6 374.1M688.4 378.4L688.1 383.8M687.9 388L687.5 393.4M687.3 397.5L686.9 402.9M686.6 406.8L686.2 412.2M685.9 416L685.5 421.4M685.2 425.1L684.8 430.5M684.5 434.1L684 439.5M683.7 442.9L683.3 448.3M683 451.7L682.5 457.1M682.2 460.5L681.7 465.9M681.4 469.3L680.9 474.7M680.6 478.1L680.1 483.5M679.8 486.9L679.3 492.3M679 495.7L678.5 501.1M606.1 75.6L611.3 81M618.9 89L623.8 94.4M631 102.4L635.7 107.8M642.3 115.8L646.6 121.2M652.5 129L656.4 134.4M661.5 142.1L664.9 147.5M669.3 155L672.3 160.4M676 167.7L678.5 173.1M681.6 180.3L683.8 185.7M686.3 192.6L688.1 198M690.2 204.8L691.7 210.2M693.4 216.9L694.6 222.3M695.9 228.7L696.5 232M696.4 406.8L695.8 412.2M695.5 416L694.9 421.4M694.6 425.1L694 430.5M693.7 434.1L693.1 439.5M692.8 442.9L692.2 448.3M691.8 451.7L691.3 457.1M690.9 460.5L690.3 465.9M690 469.3L689.4 474.7M689.1 478.1L688.5 483.5M688.1 486.9L687.6 492.3M687.2 495.7L686.6 501.1M636.7 75.6L641.5 81M648.5 89L653.1 94.4M659.5 102.4L663.6 107.8M669.4 115.8L673.1 121.2M678.1 129L681.3 134.4M685.6 142.1L688.3 147.5M691.8 155L694.2 160.4M696.5 480.6L696.2 483.5M695.8 486.9L695.1 492.3M694.7 495.7L694.1 501.1" stroke="#00ff00" fill="none"/>
<path d="M147.6 503.6L153.1 497.2M158.4 490.9L163.9 484.6M169.2 478.4L174.7 471.9M180 465.8L185.5 459.4M190.9 453.2L196.4 446.8M201.8 440.5L207.3 434.1M212.7 427.8L218.3 421.4M223.8 415.1L229.4 408.7M234.9 402.3L240.5 395.9M246.2 389.4L251.8 383M257.5 376.5L263.1 370.1M268.9 363.5L274.5 357.1M280.4 350.4L286 344M291.9 337.3L297.6 330.9M303.6 324.1L309.2 317.7M315.3 310.8L321 304.4M327.1 297.5L332.8 291.1M339 284.1L344.7 277.7M351 270.6L356.7 264.2M363.1 257.1L368.8 250.7M375.3 243.5L381 237.1M387.5 229.9L393.3 223.5M399.9 216.1L405.6 209.7M412.3 202.3L418.1 195.9M424.8 188.5L430.6 182.1M437.4 174.5L443.2 168.1M450.1 160.5L455.9 154.1M462.9 146.5L468.7 140.1M475.8 132.3L481.6 125.9M488.8 118.1L494.6 111.7M501.8 103.9L507.6 97.5M514.8 89.7L520.7 83.3M193.8 503.6L199.1 497.2M204.3 490.9L209.6 484.6M214.7 478.4L220.1 471.9M225.3 465.8L230.6 459.4M235.8 453.2L241.2 446.8M246.4 440.5L251.8 434.1M257.1 427.8L262.5 421.4M267.9 415.1L273.3 408.7M278.7 402.3L284.2 395.9M289.7 389.4L295.1 383M300.7 376.5L306.2 370.1M311.8 363.5L317.3 357.1M323 350.4L328.5 344M334.3 337.3L339.8 330.9M345.7 324.1L351.2 317.7M357.1 310.8L362.7 304.4M368.7 297.5L374.2 291.1M380.3 284.1L385.9 277.7M392 270.6L397.6 264.2M403.8 257.1L409.4 250.7M415.7 243.5L421.3 237.1M427.7 229.9L433.3 223.5M439.8 216.1L445.4 209.7M451.9 202.3L457.6 195.9M464.2 188.5L469.9 182.1M476.5 174.5L482.2 168.1M489 160.5L494.7 154.1M501.5 146.5L507.2 140.1M514.1 132.3L519.9 125.9M526.8 118.1L532.6 111.7M539.6 103.9L545.3 97.5M552.3 89.7L558.1 83.3M259.8 503.6L264.9 497.2M269.8 490.9L274.9 484.6M279.8 478.4L284.9 471.9M289.9 465.8L295 459.4M300 453.2L305.2 446.8M310.2 440.5L315.4 434.1M320.4 427.8L325.6 421.4M330.8 415.1L336 408.7M341.2 402.3L346.4 395.9M351.7 389.4L357 383M362.3 376.5L367.6 370.1M373 363.5L378.3 357.1M383.8 350.4L389.1 344M394.7 337.3L400 330.9M405.6 324.1L410.9 317.7M416.7 310.8L422 304.4M427.8 297.5L433.2 291.1M439 284.1L444.4 277.7M450.3 270.6L455.7 264.2M461.7 257.1L467.1 250.7M473.2 243.5L478.7 237.1M484.8 229.9L490.3 223.5M496.5 216.1L501.9 209.7M508.3 202.3L513.7 195.9M520.1 188.5L525.6 182.1M532.1 174.5L537.6 168.1M544.1 160.5L549.7 154.1M556.3 146.5L561.8 140.1M568.5 132.3L574.1 125.9M580.9 118.1L586.4 111.7M593.2 103.9L598.8 97.5M605.6 89.7L611.2 83.3M313.9 503.6L318.8 497.2M323.5 490.9L328.4 484.6M333.2 478.4L338.1 471.9M342.9 465.8L347.8 459.4M352.6 453.2L357.6 446.8M362.4 440.5L367.4 434.1M372.3 427.8L377.3 421.4M382.3 415.1L387.3 408.7M392.3 402.3L397.4 395.9M402.5 389.4L407.6 383M412.7 376.5L417.8 370.1M423.1 363.5L428.2 357.1M433.5 350.4L438.6 344M444 337.3L449.1 330.9M454.6 324.1L459.8 317.7M465.3 310.8L470.5 304.4M476.1 297.5L481.3 291.1M487 284.1L492.2 277.7M497.9 270.6L503.2 264.2M509 257.1L514.2 250.7M520.2 243.5L525.4 237.1M531.4 229.9L536.7 223.5M542.7 216.1L548 209.7M554.2 202.3L559.5 195.9M565.7 188.5L571.1 182.1M577.3 174.5L582.7 168.1M589.1 160.5L594.4 154.1M600.9 146.5L606.3 140.1M612.8 132.3L618.2 125.9M624.8 118.1L630.2 111.7M636.9 103.9L642.3 97.5M648.9 89.7L654.4 83.3M347.4 503.6L352.1 497.2M356.8 490.9L361.5 484.6M366.2 478.4L371 471.9M375.6 465.8L380.5 459.4M385.1 453.2L390 446.8M394.7 440.5L399.6 434.1M404.4 427.8L409.3 421.4M414.1 415.1L419 408.7M423.9 402.3L428.9 395.9M433.9 389.4L438.8 383M443.9 376.5L448.8 370.1M454 363.5L459 357.1M464.2 350.4L469.2 344M474.5 337.3L479.5 330.9M484.8 324.1L489.9 317.7M495.3 310.8L500.4 304.4M505.9 297.5L511 291.1M516.5 284.1L521.7 277.7M527.3 270.6L532.4 264.2M538.1 257.1L543.3 250.7M549.1 243.5L554.2 237.1M560.1 229.9L565.3 223.5M571.2 216.1L576.5 209.7M582.5 202.3L587.7 195.9M593.8 188.5L599 182.1M605.2 174.5L610.5 168.1M616.7 160.5L622 154.1M628.4 146.5L633.7 140.1M640.1 132.3L645.4 125.9M651.9 118.1L657.2 111.7M663.7 103.9L669.1 97.5M675.6 89.7L681 83.3M372 503.6L376.7 497.2M381.2 490.9L385.9 484.6M390.5 478.4L395.2 471.9M399.7 465.8L404.5 459.4M409.1 453.2L413.8 446.8M418.5 440.5L423.2 434.1M427.9 427.8L432.7 421.4M437.5 415.1L442.3 408.7M447.2 402.3L452 395.9M456.9 389.4L461.8 383M466.8 376.5L471.6 370.1M476.7 363.5L481.6 357.1M486.7 350.4L491.7 344M496.8 337.3L501.8 330.9M507.1 324.1L512 317.7M517.4 310.8L522.4 304.4M527.8 297.5L532.8 291.1M538.3 284.1L543.3 277.7M548.8 270.6L553.9 264.2M559.5 257.1L564.6 250.7M570.3 243.5L575.4 237.1M581.2 229.9L586.3 223.5M592.2 216.1L597.3 209.7M603.2 202.3L608.4 195.9M614.4 188.5L619.6 182.1M625.7 174.5L630.9 168.1M637 160.5L642.2 154.1M648.5 146.5L653.7 140.1M660.1 132.3L665.3 125.9M671.7 118.1L677 111.7M683.4 103.9L688.7 97.5M695.1 89.7L696.5 88.1M408.1 503.6L412.6 497.2M417 490.9L421.5 484.6M425.9 478.4L430.5 471.9M435 465.8L439.6 459.4M444 453.2L448.7 446.8M453.2 440.5L457.8 434.1M462.4 427.8L467 421.4M471.7 415.1L476.4 408.7M481.1 402.3L485.8 395.9M490.6 389.4L495.3 383M500.2 376.5L504.9 370.1M509.9 363.5L514.6 357.1M519.6 350.4L524.4 344M529.5 337.3L534.3 330.9M539.5 324.1L544.3 317.7M549.5 310.8L554.4 304.4M559.7 297.5L564.6 291.1M569.9 284.1L574.9 277.7M580.3 270.6L585.2 264.2M590.7 257.1L595.7 250.7M601.3 243.5L606.3 237.1M611.9 229.9L616.9 223.5M622.6 216.1L627.7 209.7M633.5 202.3L638.5 195.9M644.4 188.5L649.5 182.1M655.5 174.5L660.5 168.1M666.6 160.5L671.7 154.1M677.8 146.5L682.9 140.1M689.2 132.3L694.3 125.9M434.6 503.6L439 497.2M443.3 490.9L447.8 484.6M452.1 478.4L456.5 471.9M460.9 465.8L465.4 459.4M469.8 453.2L474.3 446.8M478.7 440.5L483.2 434.1M487.7 427.8L492.3 421.4M496.8 415.1L501.4 408.7M506 402.3L510.6 395.9M515.3 389.4L520 383M524.7 376.5L529.4 370.1M534.2 363.5L538.9 357.1M543.8 350.4L548.5 344M553.5 337.3L558.2 330.9M563.3 324.1L568 317.7M573.2 310.8L577.9 304.4M583.1 297.5L587.9 291.1M593.2 284.1L598 277.7M603.4 270.6L608.2 264.2M613.6 257.1L618.5 250.7M624 243.5L628.9 237.1M634.5 229.9L639.4 223.5M645 216.1L650 209.7M655.7 202.3L660.6 195.9M666.4 188.5L671.4 182.1M677.3 174.5L682.3 168.1M688.3 160.5L693.3 154.1M473.4 503.6L477.7 497.2M481.8 490.9L486.1 484.6M490.3 478.4L494.6 471.9M498.8 465.8L503.1 459.4M507.3 453.2L511.7 446.8M516 440.5L520.4 434.1M524.7 427.8L529.1 421.4M533.5 415.1L538 408.7M542.5 402.3L546.9 395.9M551.5 389.4L556 383M560.6 376.5L565.1 370.1M569.8 363.5L574.4 357.1M579.1 350.4L583.7 344M588.5 337.3L593.1 330.9M598 324.1L602.7 317.7M607.6 310.8L612.3 304.4M617.3 297.5L622 291.1M627.1 284.1L631.8 277.7M637 270.6L641.8 264.2M647 257.1L651.8 250.7M657.1 243.5L661.9 237.1M667.3 229.9L672.1 223.5M677.6 216.1L682.5 209.7M688 202.3L692.9 195.9M501.9 503.6L506.1 497.2M510.1 490.9L514.3 484.6M518.4 478.4L522.6 471.9M526.7 465.8L530.9 459.4M535 453.2L539.3 446.8M543.4 440.5L547.7 434.1M551.9 427.8L556.2 421.4M560.5 415.1L564.9 408.7M569.2 402.3L573.6 395.9M578.1 389.4L582.4 383M587 376.5L591.4 370.1M596 363.5L600.4 357.1M605.1 350.4L609.5 344M614.3 337.3L618.8 330.9M623.6 324.1L628.1 317.7M633 310.8L637.5 304.4M642.5 297.5L647 291.1M652 284.1L656.7 277.7M661.7 270.6L666.4 264.2M671.5 257.1L676.2 250.7M681.5 243.5L686.1 237.1M691.5 229.9L696.2 223.5M524.7 503.6L528.7 497.2M532.7 490.9L536.8 484.6M540.7 478.4L544.8 471.9M548.8 465.8L553 459.4M557 453.2L561.2 446.8M565.3 440.5L569.5 434.1M573.6 427.8L577.8 421.4M582 415.1L586.3 408.7M590.6 402.3L594.8 395.9M599.2 389.4L603.5 383M607.9 376.5L612.3 370.1M616.8 363.5L621.1 357.1M625.7 350.4L630.1 344M634.7 337.3L639.1 330.9M643.9 324.1L648.3 317.7M653.1 310.8L657.6 304.4M662.4 297.5L666.9 291.1M671.9 284.1L676.4 277.7M681.4 270.6L685.9 264.2M691 257.1L695.6 250.7M543.7 503.6L547.6 497.2M551.5 490.9L555.5 484.6M559.4 478.4L563.4 471.9M567.4 465.8L571.4 459.4M575.4 453.2L579.5 446.8M583.5 440.5L587.6 434.1M591.7 427.8L595.8 421.4M599.9 415.1L604.1 408.7M608.3 402.3L612.5 395.9M616.8 389.4L621.1 383M625.4 376.5L629.7 370.1M634.1 363.5L638.4 357.1M642.9 350.4L647.2 344M651.8 337.3L656.1 330.9M660.8 324.1L665.1 317.7M669.9 310.8L674.3 304.4M679.1 297.5L683.5 291.1M688.3 284.1L692.8 277.7M567.4 503.6L571.2 497.2M575 490.9L578.9 484.6M582.7 478.4L586.6 471.9M590.5 465.8L594.4 459.4M598.3 453.2L602.3 446.8M606.2 440.5L610.2 434.1M614.2 427.8L618.3 421.4M622.3 415.1L626.4 408.7M630.5 402.3L634.6 395.9M638.8 389.4L642.9 383M647.2 376.5L651.4 370.1M655.7 363.5L659.9 357.1M664.3 350.4L668.6 344M673 337.3L677.3 330.9M681.9 324.1L686.1 317.7M690.8 310.8L695.1 304.4M598.7 503.6L602.4 497.2M606.1 490.9L609.8 484.6M613.5 478.4L617.3 471.9M621 465.8L624.8 459.4M628.6 453.2L632.4 446.8M636.2 440.5L640.1 434.1M644 427.8L647.9 421.4M651.8 415.1L655.8 408.7M659.8 402.3L663.8 395.9M667.8 389.4L671.8 383M676 376.5L680 370.1M684.2 363.5L688.3 357.1M692.6 350.4L696.5 344.4M623.5 503.6L627.2 497.2M630.7 490.9L634.4 484.6M637.9 478.4L641.6 471.9M645.2 465.8L648.9 459.4M652.6 453.2L656.3 446.8M660 440.5L663.8 434.1M667.6 427.8L671.4 421.4M675.2 415.1L679.1 408.7M683 402.3L686.9 395.9M690.8 389.4L694.8 383M644.2 503.6L647.7 497.2M651.2 490.9L654.7 484.6M658.2 478.4L661.8 471.9M665.3 465.8L669 459.4M672.5 453.2L676.2 446.8M679.8 440.5L683.5 434.1M687.2 427.8L690.9 421.4M694.6 415.1L696.5 411.9M677.4 503.6L680.7 497.2M684 490.9L687.5 484.6M690.8 478.4L694.3 471.9" stroke="#4b0082" fill="none"/>
<path d="M560.6 452.5H563.2M559.1 455.5H563.9M557.7 457.5H564.6M556.2 459.5H565.3M554.7 462.5H566M553.2 464.5H566.7M553.4 466.5H567.2M553.9 469.5H567.7M554.4 471.5H568.2M554.9 473.5H568.7M555.3 476.5H569.2M555.8 478.5H569.7M556.9 480.5H570.2M560.1 483.5H570.7M563.2 485.5H571.1M566.3 487.5H571.5M569.4 490.5H572" stroke="#4b0082" stroke-width="1" fill="none"/>
<polyline points="378,74.5 362.4,148.5 358.7,200.9 360.7,241.6 344.2,274.9 327.8,327.4 334.6,368.1 376.6,401.3 444,429.5 507.6,464.9 553.7,480.3 572,499" stroke="#0000ff" stroke-width="1.3" fill="none"/>
<polyline points="266.4,74.7 268.3,77.7 270.2,80.7 272.2,83.7 274.1,86.7 276.1,89.7 278.2,92.7 280.2,95.7 282.3,98.7 284.4,101.7 286.5,104.7 288.7,107.7 290.9,110.7 293.1,113.7 295.3,116.7 297.6,119.7 299.9,122.7 302.2,125.7 304.5,128.7 306.9,131.7 309.3,134.7 311.8,137.7 314.2,140.7 316.7,143.7 319.2,146.7 321.8,149.7 324.4,152.7 327,155.7 329.6,158.7 332.3,161.7 335,164.7 337.7,167.7 340.5,170.7 343.3,173.7 346.1,176.7 348.9,179.7 351.8,182.7 354.7,185.7 357.6,188.7 360.5,191.7 363.4,194.7 366.3,197.7 369.3,200.7 372.2,203.7 375.2,206.7 378.3,209.7 381.5,212.7 384.8,215.7 388,218.7 391.3,221.7 394.6,224.7 398,227.7 401.3,230.7 404.6,233.7 408,236.7 411.4,239.7 414.7,242.7 417.8,245.7 421,248.7 424.1,251.7 427.3,254.7 430.4,257.6 433.6,260.6 436.7,263.6 439.9,266.6 443,269.6 446.1,272.6 449.2,275.6 452.4,278.6 455.6,281.6 458.8,284.6 461.9,287.6 465,290.6 468,293.6 471.1,296.6 474.1,299.6 477,302.6 480,305.6 482.8,308.6 485.7,311.6 488.5,314.6 491.2,317.6 493.9,320.6 496.6,323.6 499.2,326.6 501.7,329.6 504.2,332.6 506.6,335.6 509,338.6 511.3,341.6 513.6,344.6 515.8,347.6 518,350.6 520.1,353.6 522.2,356.6 524.2,359.6 526.2,362.6 528.1,365.6 529.9,368.6 531.7,371.6 533.4,374.6 535.1,377.6 536.7,380.6 538.3,383.6 539.8,386.6 541.3,389.6 542.8,392.6 544.2,395.6 545.5,398.6 546.8,401.6 547.9,404.6 548.9,407.6 549.9,410.6 550.8,413.6 551.8,416.6 552.7,419.6 553.6,422.6 554.4,425.6 555.2,428.6 556.3,431.6 557.3,434.6 558.3,437.6 559.3,440.6 560.3,443.6 561.2,446.6 562.1,449.6 563.1,452.6 564.1,455.6 565,458.6 565.9,461.6 566.8,464.6 567.4,467.6 568.1,470.6 568.7,473.6 569.4,476.6 570,479.6 570.6,482.6 571.2,485.6 571.8,488.6 572.3,491.6 572.9,494.6 572.9,494.9 579.8,498" stroke="#4b0082" stroke-width="1.3" fill="none"/>
<polyline points="463.5,74.5 420.6,148.5 413.9,200.9 431,241.6 458,274.9 512,327.4 555.2,368.1 574.6,401.3 575.5,429.5 553,464.9 556.2,480.3 579.8,498" stroke="#ff0000" stroke-width="1.3" fill="none"/>
<path d="M575.5 401V430" stroke="#ff0000" stroke-width="3" fill="none"/>
</g>
<g>
<text y="51.8" font-size="16.2" fill="#000" stroke="#fff" stroke-width="0.25"><tspan x="83.9" textLength="34.1" lengthAdjust="spacingAndGlyphs">AIRS</tspan> <tspan x="126.9" textLength="46.8" lengthAdjust="spacingAndGlyphs">SkewT</tspan> <tspan x="181.3" textLength="64.4" lengthAdjust="spacingAndGlyphs">Diagram</tspan> <tspan x="254.4" textLength="9.7" lengthAdjust="spacingAndGlyphs">2</tspan><tspan x="265.5" textLength="9.7" lengthAdjust="spacingAndGlyphs">0</tspan><tspan x="273.8" textLength="9.7" lengthAdjust="spacingAndGlyphs">1</tspan><tspan x="285" textLength="9.7" lengthAdjust="spacingAndGlyphs">0</tspan><tspan dy="-1.1" x="298.3" textLength="8.3" lengthAdjust="spacingAndGlyphs">-</tspan><tspan dy="1.1" x="307.9" textLength="9.7" lengthAdjust="spacingAndGlyphs">0</tspan><tspan x="317.6" textLength="9.7" lengthAdjust="spacingAndGlyphs">7</tspan><tspan dy="-1.1" x="333.4" textLength="8.3" lengthAdjust="spacingAndGlyphs">-</tspan><tspan dy="1.1" x="342.7" textLength="9.7" lengthAdjust="spacingAndGlyphs">1</tspan><tspan x="352" textLength="9.7" lengthAdjust="spacingAndGlyphs">2</tspan><tspan dy="2" x="362.1" font-size="20.2" rotate="22">/</tspan><tspan dy="-2" x="372.7" textLength="9.7" lengthAdjust="spacingAndGlyphs">1</tspan><tspan x="382.7" textLength="9.7" lengthAdjust="spacingAndGlyphs">3</tspan><tspan x="392.9">:</tspan><tspan x="397.5" textLength="9.7" lengthAdjust="spacingAndGlyphs">0</tspan><tspan x="407.6" textLength="9.7" lengthAdjust="spacingAndGlyphs">5</tspan><tspan x="418.1">:</tspan><tspan x="422.8" textLength="9.7" lengthAdjust="spacingAndGlyphs">5</tspan><tspan x="431.8" textLength="9.7" lengthAdjust="spacingAndGlyphs">1</tspan><tspan x="443.3">.</tspan><tspan x="447.9" textLength="9.7" lengthAdjust="spacingAndGlyphs">4</tspan><tspan x="458.1" textLength="9.7" lengthAdjust="spacingAndGlyphs">0</tspan> <tspan x="477.4">(</tspan><tspan x="484.2" textLength="23.2" lengthAdjust="spacingAndGlyphs">Lat</tspan><tspan dy="2" x="507.9" font-size="20.2" rotate="22">/</tspan><tspan dy="-2" x="520" textLength="24.7" lengthAdjust="spacingAndGlyphs">Lon</tspan> <tspan x="555.5" textLength="9.7" lengthAdjust="spacingAndGlyphs">2</tspan><tspan x="566.7" textLength="9.7" lengthAdjust="spacingAndGlyphs">8</tspan><tspan x="576.5">.</tspan><tspan x="580.5" textLength="9.7" lengthAdjust="spacingAndGlyphs">8</tspan><tspan x="589.5" textLength="9.7" lengthAdjust="spacingAndGlyphs">8</tspan><tspan dy="2" x="600.2" font-size="20.2" rotate="22">/</tspan><tspan dy="-3.1" x="614.4" textLength="8.9" lengthAdjust="spacingAndGlyphs">-</tspan><tspan dy="1.1" x="624.8" textLength="9.7" lengthAdjust="spacingAndGlyphs">1</tspan><tspan x="636" textLength="9.7" lengthAdjust="spacingAndGlyphs">7</tspan><tspan x="646.9" textLength="9.7" lengthAdjust="spacingAndGlyphs">2</tspan><tspan x="657.1">.</tspan><tspan x="660.7" textLength="9.7" lengthAdjust="spacingAndGlyphs">9</tspan><tspan x="670.4" textLength="9.7" lengthAdjust="spacingAndGlyphs">9</tspan> <tspan x="689.1" textLength="26.2" lengthAdjust="spacingAndGlyphs">deg</tspan><tspan x="717">)</tspan></text>
<text y="65.5" font-size="10.4" fill="#ff0000"><tspan dy="-0.7" x="114.2" textLength="7.4" lengthAdjust="spacingAndGlyphs">-</tspan><tspan dy="0.7" x="124.4" textLength="17.4" lengthAdjust="spacingAndGlyphs">120</tspan></text>
<text y="65.5" font-size="10.4" fill="#ff0000"><tspan dy="-0.7" x="181.9" textLength="7.4" lengthAdjust="spacingAndGlyphs">-</tspan><tspan dy="0.7" x="192.1" textLength="17.4" lengthAdjust="spacingAndGlyphs">110</tspan></text>
<text y="65.5" font-size="10.4" fill="#ff0000"><tspan dy="-0.7" x="249.5" textLength="7.4" lengthAdjust="spacingAndGlyphs">-</tspan><tspan dy="0.7" x="259.7" textLength="17.4" lengthAdjust="spacingAndGlyphs">100</tspan></text>
<text y="65.5" font-size="10.4" fill="#ff0000"><tspan dy="-0.7" x="324.2" textLength="7.4" lengthAdjust="spacingAndGlyphs">-</tspan><tspan dy="0.7" x="333.4" textLength="11.8" lengthAdjust="spacingAndGlyphs">90</tspan></text>
<text y="65.5" font-size="10.4" fill="#ff0000"><tspan dy="-0.7" x="391.9" textLength="7.4" lengthAdjust="spacingAndGlyphs">-</tspan><tspan dy="0.7" x="401.1" textLength="11.8" lengthAdjust="spacingAndGlyphs">80</tspan></text>
<text y="65.5" font-size="10.4" fill="#ff0000"><tspan dy="-0.7" x="459.5" textLength="7.4" lengthAdjust="spacingAndGlyphs">-</tspan><tspan dy="0.7" x="468.7" textLength="11.8" lengthAdjust="spacingAndGlyphs">70</tspan></text>
<text y="65.5" font-size="10.4" fill="#ff0000"><tspan dy="-0.7" x="527.2" textLength="7.4" lengthAdjust="spacingAndGlyphs">-</tspan><tspan dy="0.7" x="536.4" textLength="11.8" lengthAdjust="spacingAndGlyphs">60</tspan></text>
<text y="65.5" font-size="10.4" fill="#ff0000"><tspan dy="-0.7" x="594.9" textLength="7.4" lengthAdjust="spacingAndGlyphs">-</tspan><tspan dy="0.7" x="604.1" textLength="11.8" lengthAdjust="spacingAndGlyphs">50</tspan></text>
<text y="65.5" font-size="10.4" fill="#ff0000"><tspan dy="-0.7" x="662.6" textLength="7.4" lengthAdjust="spacingAndGlyphs">-</tspan><tspan dy="0.7" x="671.8" textLength="11.8" lengthAdjust="spacingAndGlyphs">40</tspan></text>
<text y="516.9" font-size="10.4" fill="#ff0000"><tspan dy="-0.7" x="87.9" textLength="7" lengthAdjust="spacingAndGlyphs">-</tspan><tspan dy="0.7" x="96.5" textLength="12.6" lengthAdjust="spacingAndGlyphs">50</tspan></text>
<text y="516.9" font-size="10.4" fill="#ff0000"><tspan dy="-0.7" x="155.6" textLength="7" lengthAdjust="spacingAndGlyphs">-</tspan><tspan dy="0.7" x="164.2" textLength="12.6" lengthAdjust="spacingAndGlyphs">40</tspan></text>
<text y="516.9" font-size="10.4" fill="#ff0000"><tspan dy="-0.7" x="223.2" textLength="7" lengthAdjust="spacingAndGlyphs">-</tspan><tspan dy="0.7" x="231.8" textLength="12.6" lengthAdjust="spacingAndGlyphs">30</tspan></text>
<text y="516.9" font-size="10.4" fill="#ff0000"><tspan dy="-0.7" x="290.9" textLength="7" lengthAdjust="spacingAndGlyphs">-</tspan><tspan dy="0.7" x="299.5" textLength="12.6" lengthAdjust="spacingAndGlyphs">20</tspan></text>
<text y="516.9" font-size="10.4" fill="#ff0000"><tspan dy="-0.7" x="358.6" textLength="7" lengthAdjust="spacingAndGlyphs">-</tspan><tspan dy="0.7" x="368.2" textLength="11.6" lengthAdjust="spacingAndGlyphs">10</tspan></text>
<text x="434.1" y="516.9" font-size="10.4" fill="#ff0000" text-anchor="start" textLength="6.3" lengthAdjust="spacingAndGlyphs">0</text>
<text x="498.5" y="516.9" font-size="10.4" fill="#ff0000" text-anchor="start" textLength="12.2" lengthAdjust="spacingAndGlyphs">10</text>
<text x="566.2" y="516.9" font-size="10.4" fill="#ff0000" text-anchor="start" textLength="12.2" lengthAdjust="spacingAndGlyphs">20</text>
<text x="633.9" y="516.9" font-size="10.4" fill="#ff0000" text-anchor="start" textLength="12.2" lengthAdjust="spacingAndGlyphs">30</text>
<text x="677.3" y="516.7" font-size="10.4" fill="#ff0000" text-anchor="start" textLength="21.5" lengthAdjust="spacingAndGlyphs">T(C)</text>
<text x="48" y="74.8" font-size="10.4" fill="#000" text-anchor="start" textLength="19" lengthAdjust="spacingAndGlyphs">100</text>
<text x="48" y="201.2" font-size="10.4" fill="#000" text-anchor="start" textLength="19" lengthAdjust="spacingAndGlyphs">200</text>
<text x="48" y="275.1" font-size="10.4" fill="#000" text-anchor="start" textLength="19" lengthAdjust="spacingAndGlyphs">300</text>
<text x="48" y="327.6" font-size="10.4" fill="#000" text-anchor="start" textLength="19" lengthAdjust="spacingAndGlyphs">400</text>
<text x="48" y="368.3" font-size="10.4" fill="#000" text-anchor="start" textLength="19" lengthAdjust="spacingAndGlyphs">500</text>
<text x="48" y="401.6" font-size="10.4" fill="#000" text-anchor="start" textLength="19" lengthAdjust="spacingAndGlyphs">600</text>
<text x="48" y="429.7" font-size="10.4" fill="#000" text-anchor="start" textLength="19" lengthAdjust="spacingAndGlyphs">700</text>
<text x="48" y="454" font-size="10.4" fill="#000" text-anchor="start" textLength="19" lengthAdjust="spacingAndGlyphs">800</text>
<text x="48" y="475.5" font-size="10.4" fill="#000" text-anchor="start" textLength="19" lengthAdjust="spacingAndGlyphs">900</text>
<text x="42.6" y="494.8" font-size="10.4" fill="#000" text-anchor="start" textLength="27.4" lengthAdjust="spacingAndGlyphs">1000</text>
<text transform="translate(80.2,331) rotate(-90)" font-size="12.6" textLength="104" lengthAdjust="spacingAndGlyphs">PRESSURE (MB)</text>
<text x="700.7" y="84.3" font-size="13.2" fill="#000" text-anchor="start" textLength="45.1" lengthAdjust="spacingAndGlyphs">TP:100</text>
<text x="700.2" y="100" font-size="13.2" fill="#000" text-anchor="start" textLength="50.9" lengthAdjust="spacingAndGlyphs">MW:N/A</text>
<text x="700.7" y="115.6" font-size="13.2" fill="#000" text-anchor="start" textLength="53.1" lengthAdjust="spacingAndGlyphs">FRZ:554</text>
<text x="700.2" y="131.3" font-size="13.2" fill="#000" text-anchor="start" textLength="55.5" lengthAdjust="spacingAndGlyphs">WB0:696</text>
<text x="699.7" y="146.9" font-size="13.2" fill="#000" text-anchor="start" textLength="60" lengthAdjust="spacingAndGlyphs">PW:26.99</text>
<text x="700.7" y="162.6" font-size="13.2" fill="#000" text-anchor="start" textLength="51" lengthAdjust="spacingAndGlyphs">RH:45.5</text>
<text x="699.7" y="178.2" font-size="13.2" fill="#000" text-anchor="start" textLength="64" lengthAdjust="spacingAndGlyphs">MAXT:26.2</text>
<text x="700.7" y="193.9" font-size="13.2" fill="#000" text-anchor="start" textLength="53.1" lengthAdjust="spacingAndGlyphs">TH:5463</text>
<text x="700.7" y="209.5" font-size="13.2" fill="#000" text-anchor="start" textLength="46.9" lengthAdjust="spacingAndGlyphs">L57:5.4</text>
<text x="699.7" y="225.2" font-size="13.2" fill="#000" text-anchor="start" textLength="59.5" lengthAdjust="spacingAndGlyphs">LCL:1005</text>
<text x="702.9" y="240.8" font-size="13.2" fill="#000" text-anchor="start" textLength="32.1" lengthAdjust="spacingAndGlyphs">LI:4.1</text>
<text x="700.7" y="256.5" font-size="13.2" fill="#000" text-anchor="start" textLength="44.3" lengthAdjust="spacingAndGlyphs">SI:12.5</text>
<text x="700.2" y="272.1" font-size="13.2" fill="#000" text-anchor="start" textLength="46.1" lengthAdjust="spacingAndGlyphs">TT:26.9</text>
<text x="701.3" y="287.8" font-size="13.2" fill="#000" text-anchor="start" textLength="41" lengthAdjust="spacingAndGlyphs">KI:275</text>
<text x="700.7" y="303.5" font-size="13.2" fill="#000" text-anchor="start" textLength="48.3" lengthAdjust="spacingAndGlyphs">SW:N/A</text>
<text x="702.9" y="319.1" font-size="13.2" fill="#000" text-anchor="start" textLength="34.8" lengthAdjust="spacingAndGlyphs">EI:0.2</text>
<text y="334.8" font-size="13.2" fill="#000"><tspan dy="-0.9" x="699.4" textLength="8" lengthAdjust="spacingAndGlyphs">-</tspan><tspan dy="0.9" x="710.1" textLength="48.3" lengthAdjust="spacingAndGlyphs">PARCEL</tspan><tspan dy="-0.9" x="760.2" textLength="7.5" lengthAdjust="spacingAndGlyphs">-</tspan></text>
<text x="701.2" y="350.4" font-size="13.2" fill="#000" text-anchor="start" textLength="52.2" lengthAdjust="spacingAndGlyphs">CAPE:87</text>
<text x="701.2" y="366.1" font-size="13.2" fill="#000" text-anchor="start" textLength="42.5" lengthAdjust="spacingAndGlyphs">CINH:2</text>
<text x="699.7" y="381.7" font-size="13.2" fill="#000" text-anchor="start" textLength="59.6" lengthAdjust="spacingAndGlyphs">LCL:1005</text>
<text x="701.2" y="397.4" font-size="13.2" fill="#000" text-anchor="start" textLength="49.3" lengthAdjust="spacingAndGlyphs">CAP:0.0</text>
<text x="700.6" y="413" font-size="13.2" fill="#000" text-anchor="start" textLength="51.4" lengthAdjust="spacingAndGlyphs">LFC:985</text>
<text x="701.2" y="428.7" font-size="13.2" fill="#000" text-anchor="start" textLength="43.4" lengthAdjust="spacingAndGlyphs">EL:782</text>
<text x="700.6" y="444.3" font-size="13.2" fill="#000" text-anchor="start" textLength="52.8" lengthAdjust="spacingAndGlyphs">MPL:662</text>
<text y="460" font-size="13.2" fill="#000"><tspan dy="-0.9" x="701.2" textLength="8.7" lengthAdjust="spacingAndGlyphs">-</tspan><tspan dy="0.9" x="713" textLength="29.5" lengthAdjust="spacingAndGlyphs">WIND</tspan><tspan dy="-0.9" x="744.6" textLength="7.4" lengthAdjust="spacingAndGlyphs">-</tspan></text>
<text x="704.2" y="475.7" font-size="13.2" fill="#000" text-anchor="start" textLength="23.6" lengthAdjust="spacingAndGlyphs">NOT</text>
<text x="701.8" y="491.3" font-size="13.2" fill="#000" text-anchor="start" textLength="32.4" lengthAdjust="spacingAndGlyphs">AVAIL</text>
<text transform="translate(142,523.2) rotate(-45)" font-size="10.4" fill="#4b0082" text-anchor="middle" dy="3.5" textLength="15.6" lengthAdjust="spacingAndGlyphs">0.1</text>
<text transform="translate(189.3,523.2) rotate(-45)" font-size="10.4" fill="#4b0082" text-anchor="middle" dy="3.5" textLength="15.6" lengthAdjust="spacingAndGlyphs">0.2</text>
<text transform="translate(254.7,523.2) rotate(-45)" font-size="10.4" fill="#4b0082" text-anchor="middle" dy="3.5" textLength="15.6" lengthAdjust="spacingAndGlyphs">0.5</text>
<text transform="translate(307.7,523.2) rotate(-45)" font-size="10.4" fill="#4b0082" text-anchor="middle" dy="3.5" textLength="6.2" lengthAdjust="spacingAndGlyphs">1</text>
<text transform="translate(341.8,523.2) rotate(-45)" font-size="10.4" fill="#4b0082" text-anchor="middle" dy="3.5" textLength="15.6" lengthAdjust="spacingAndGlyphs">1.5</text>
<text transform="translate(365.1,523.2) rotate(-45)" font-size="10.4" fill="#4b0082" text-anchor="middle" dy="3.5" textLength="6.2" lengthAdjust="spacingAndGlyphs">2</text>
<text transform="translate(400.5,523.2) rotate(-45)" font-size="10.4" fill="#4b0082" text-anchor="middle" dy="3.5" textLength="6.2" lengthAdjust="spacingAndGlyphs">3</text>
<text transform="translate(427.8,523.2) rotate(-45)" font-size="10.4" fill="#4b0082" text-anchor="middle" dy="3.5" textLength="6.2" lengthAdjust="spacingAndGlyphs">4</text>
<text transform="translate(465.7,523.2) rotate(-45)" font-size="10.4" fill="#4b0082" text-anchor="middle" dy="3.5" textLength="6.2" lengthAdjust="spacingAndGlyphs">6</text>
<text transform="translate(493.4,523.2) rotate(-45)" font-size="10.4" fill="#4b0082" text-anchor="middle" dy="3.5" textLength="6.2" lengthAdjust="spacingAndGlyphs">8</text>
<text transform="translate(517.2,523.2) rotate(-45)" font-size="10.4" fill="#4b0082" text-anchor="middle" dy="3.5" textLength="12.4" lengthAdjust="spacingAndGlyphs">10</text>
<text transform="translate(536,523.2) rotate(-45)" font-size="10.4" fill="#4b0082" text-anchor="middle" dy="3.5" textLength="12.4" lengthAdjust="spacingAndGlyphs">12</text>
<text transform="translate(559.4,523.2) rotate(-45)" font-size="10.4" fill="#4b0082" text-anchor="middle" dy="3.5" textLength="12.4" lengthAdjust="spacingAndGlyphs">15</text>
<text transform="translate(590,523.2) rotate(-45)" font-size="10.4" fill="#4b0082" text-anchor="middle" dy="3.5" textLength="12.4" lengthAdjust="spacingAndGlyphs">20</text>
<text transform="translate(614.6,523.2) rotate(-45)" font-size="10.4" fill="#4b0082" text-anchor="middle" dy="3.5" textLength="12.4" lengthAdjust="spacingAndGlyphs">25</text>
<text transform="translate(635.4,523.2) rotate(-45)" font-size="10.4" fill="#4b0082" text-anchor="middle" dy="3.5" textLength="12.4" lengthAdjust="spacingAndGlyphs">30</text>
<text transform="translate(668.5,523.2) rotate(-45)" font-size="10.4" fill="#4b0082" text-anchor="middle" dy="3.5" textLength="12.4" lengthAdjust="spacingAndGlyphs">40</text>
<text y="526.2" font-size="10.8" fill="#4b0082"><tspan x="663.5" textLength="10.5" lengthAdjust="spacingAndGlyphs">Q</tspan><tspan x="674.3" textLength="34.1" lengthAdjust="spacingAndGlyphs">(g/kg)</tspan></text>
</g>
</svg>
</body></html>
